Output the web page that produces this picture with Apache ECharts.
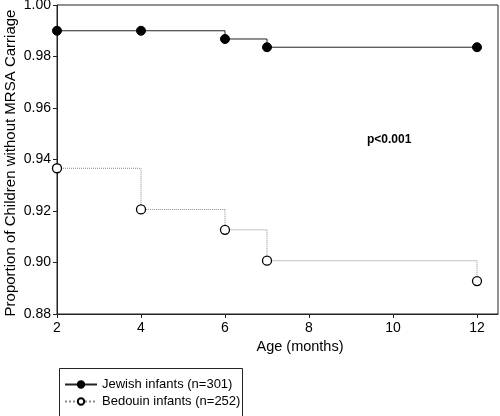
<!DOCTYPE html>
<html>
<head>
<meta charset="utf-8">
<script src="https://cdn.jsdelivr.net/npm/echarts@6/dist/echarts.min.js"></script>
<style>html,body{margin:0;padding:0;background:#fff;}#c{width:500px;height:416px;}</style>
</head>
<body>
<div id="c"></div>
<script>
var ages = [2, 4, 6, 7, 12];
var jewish = [0.990, 0.990, 0.9868, 0.9836, 0.9836];
var bedouin = [0.9366, 0.9206, 0.9127, 0.9007, 0.8928];
var xTicks = [2, 4, 6, 8, 10, 12];
var seriesNames = ['Jewish infants (n=301)', 'Bedouin infants (n=252)'];
var xTitle = 'Age (months)';
var yTitle = 'Proportion of Children without MRSA Carriage';
var pText = 'p<0.001';

function pairs(xs, ys) { return xs.map(function (x, i) { return [x, ys[i]]; }); }

var font = 'Liberation Sans, Arial, sans-serif';
var chart = echarts.init(document.getElementById('c'), null, {renderer: 'canvas'});
chart.setOption({
  animation: false,
  backgroundColor: '#fff',
  grid: {left: 57, top: 5, right: 2, bottom: 102, show: true, borderColor: '#222', borderWidth: 1,
    containLabel: false, outerBoundsMode: 'none'},
  xAxis: {
    type: 'value', min: 2, max: 12.5,
    axisLine: {show: true, lineStyle: {color: '#222', width: 1}},
    axisTick: {show: true, length: 4, lineStyle: {color: '#222'}, customValues: xTicks},
    axisLabel: {fontFamily: font, fontSize: 14, color: '#000', margin: 7, customValues: xTicks},
    splitLine: {show: false}
  },
  yAxis: {
    type: 'value', min: 0.88, max: 1.0, interval: 0.02,
    axisLine: {show: true, lineStyle: {color: '#222', width: 1}},
    axisTick: {show: true, length: 4, lineStyle: {color: '#222'}},
    axisLabel: {fontFamily: font, fontSize: 14, color: '#000', margin: 6,
      formatter: function (v) { return v.toFixed(2); }},
    splitLine: {show: false}
  },
  legend: {
    orient: 'vertical', left: 59, top: 373, itemWidth: 32, itemHeight: 8, itemGap: 4,
    textStyle: {fontFamily: font, fontSize: 13, color: '#000'},
    data: seriesNames
  },
  graphic: [
    {type: 'rect', left: 57, top: 366, shape: {width: 183, height: 48},
      style: {fill: 'none', stroke: '#222', lineWidth: 1}},
    {type: 'text', x: 300, y: 347, style: {text: xTitle, font: '14.5px ' + font, fill: '#000', align: 'center', verticalAlign: 'middle'}},
    {type: 'text', x: 11, y: 163, rotation: Math.PI / 2, style: {text: yTitle, font: '15px ' + font, fill: '#000', align: 'center', verticalAlign: 'middle'}},
    {type: 'text', x: 367, y: 140, style: {text: pText, font: 'bold 12px ' + font, fill: '#000', align: 'left', verticalAlign: 'middle'}}
  ],
  series: [
    {
      name: seriesNames[0], type: 'line', step: 'end', data: pairs(ages, jewish),
      symbol: 'circle', symbolSize: 9, showAllSymbol: true,
      lineStyle: {color: '#222', width: 1, type: 'solid'},
      itemStyle: {color: '#000', borderColor: '#000', borderWidth: 1}
    },
    {
      name: seriesNames[1], type: 'line', step: 'end', data: pairs(ages, bedouin),
      symbol: 'circle', symbolSize: 9, showAllSymbol: true,
      lineStyle: {color: '#888', width: 1, type: 'dotted'},
      itemStyle: {color: '#fff', borderColor: '#000', borderWidth: 1.3}
    }
  ]
});
</script>
</body>
</html>
